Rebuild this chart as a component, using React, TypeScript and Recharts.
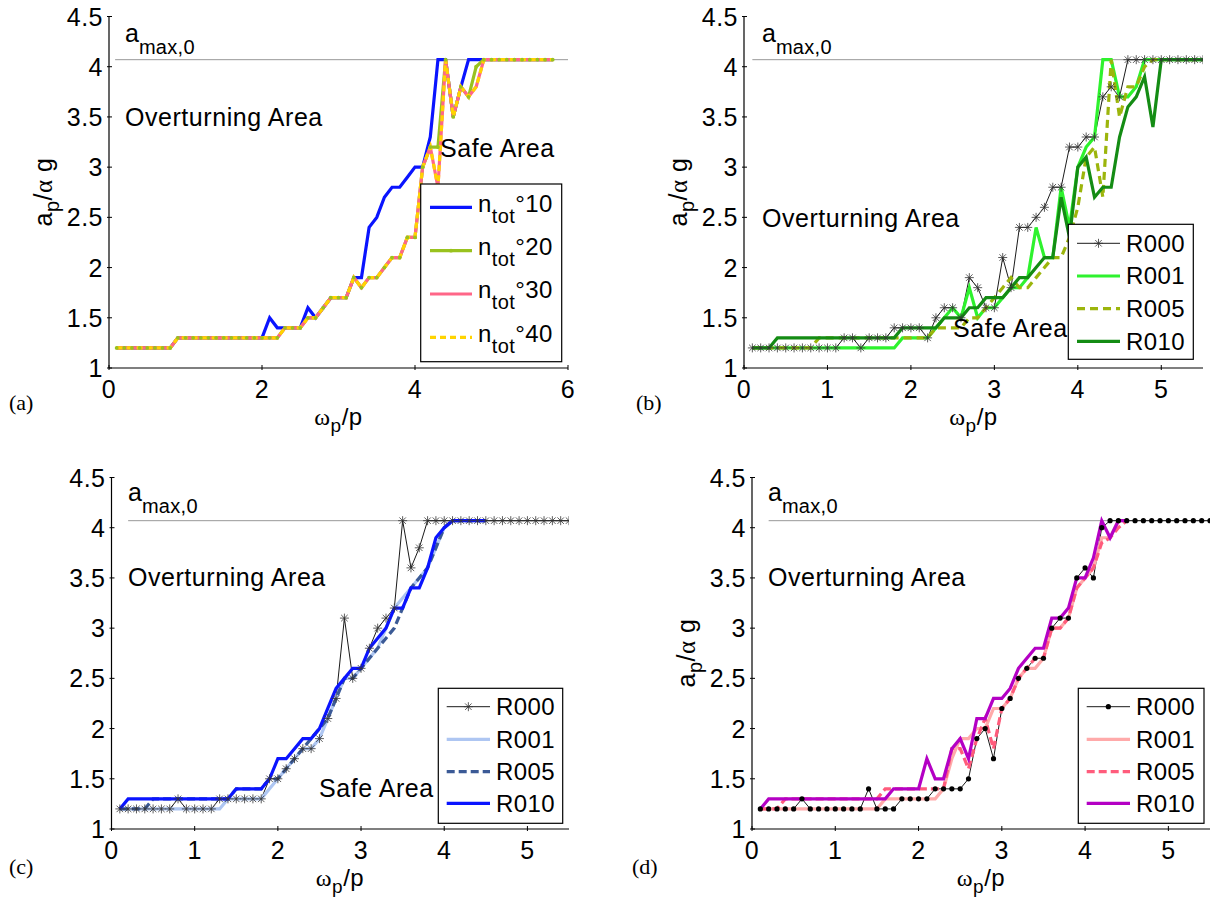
import React from 'react';
import { LineChart, Line, XAxis, YAxis, ReferenceLine } from 'recharts';

const FONT = '"Liberation Sans", Arial, Helvetica, sans-serif';
const SERIF = '"Liberation Serif", "Times New Roman", serif';

const A_MAX = 4.07;
const yTicks = [1, 1.5, 2, 2.5, 3, 3.5, 4, 4.5];
const xTicksA = [0, 2, 4, 6];
const xTicksB = [0, 1, 2, 3, 4, 5];

// (a) x = 0.1 .. 5.8
const aN10 = [
  1.2, 1.2, 1.2, 1.2, 1.2, 1.2, 1.2, 1.2,
  1.3, 1.3, 1.3, 1.3, 1.3, 1.3, 1.3, 1.3, 1.3, 1.3, 1.3, 1.3,
  1.5, 1.4, 1.4, 1.4, 1.4, 1.6, 1.5, 1.6, 1.7, 1.7,
  1.7, 1.9, 1.9, 2.4, 2.5, 2.7, 2.8, 2.8, 2.9, 3.0,
  3.0, 3.3, 4.07, 4.07, 3.5, 3.8,
  4.07, 4.07, 4.07, 4.07, 4.07, 4.07, 4.07, 4.07, 4.07, 4.07, 4.07, 4.07,
];
const aN20 = [
  1.2, 1.2, 1.2, 1.2, 1.2, 1.2, 1.2, 1.2,
  1.3, 1.3, 1.3, 1.3, 1.3, 1.3, 1.3, 1.3, 1.3, 1.3, 1.3, 1.3, 1.3, 1.3,
  1.4, 1.4, 1.4,
  1.5, 1.5, 1.6, 1.7, 1.7, 1.7,
  1.9, 1.8, 1.9, 1.9, 2.0, 2.1, 2.1, 2.3, 2.3,
  3.0, 3.2, 3.2, 4.07, 3.5, 3.8, 3.7, 4.0,
  4.07, 4.07, 4.07, 4.07, 4.07, 4.07, 4.07, 4.07, 4.07, 4.07,
];
const aN30 = [
  1.2, 1.2, 1.2, 1.2, 1.2, 1.2, 1.2, 1.2,
  1.3, 1.3, 1.3, 1.3, 1.3, 1.3, 1.3, 1.3, 1.3, 1.3, 1.3, 1.3, 1.3, 1.3,
  1.4, 1.4, 1.4,
  1.5, 1.5, 1.6, 1.7, 1.7, 1.7,
  1.9, 1.8, 1.9, 1.9, 2.0, 2.1, 2.1, 2.3, 2.3,
  3.0, 3.2, 2.8, 4.07, 3.5, 3.8, 3.7, 3.8,
  4.07, 4.07, 4.07, 4.07, 4.07, 4.07, 4.07, 4.07, 4.07, 4.07,
];
const aN40 = [
  1.2, 1.2, 1.2, 1.2, 1.2, 1.2, 1.2, 1.2,
  1.3, 1.3, 1.3, 1.3, 1.3, 1.3, 1.3, 1.3, 1.3, 1.3, 1.3, 1.3, 1.3, 1.3,
  1.4, 1.4, 1.4,
  1.5, 1.5, 1.6, 1.7, 1.7, 1.7,
  1.9, 1.8, 1.9, 1.9, 2.0, 2.1, 2.1, 2.3, 2.3,
  3.0, 3.2, 2.8, 4.07, 3.5, 3.8, 3.7, 3.8,
  4.07, 4.07, 4.07, 4.07, 4.07, 4.07, 4.07, 4.07, 4.07, 4.07,
];

// (b) x = 0.1 .. 5.5
const bR000 = [
  1.2, 1.2, 1.2, 1.2, 1.2, 1.2, 1.2, 1.2, 1.2, 1.2, 1.2,
  1.3, 1.3, 1.2, 1.3, 1.3, 1.3,
  1.4, 1.4, 1.4, 1.4, 1.3,
  1.5, 1.6, 1.6, 1.5, 1.9, 1.8, 1.6, 1.6,
  2.1, 1.8, 2.4, 2.4, 2.5, 2.6, 2.8, 2.8, 3.2, 3.2,
  3.3, 3.3, 3.7, 3.8, 3.7,
  4.07, 4.07, 4.07, 4.07, 4.07, 4.07, 4.07, 4.07, 4.07, 4.07,
];
const bR001 = [
  1.2, 1.2, 1.2, 1.2, 1.2, 1.2, 1.2, 1.2, 1.2, 1.2, 1.2, 1.2, 1.2, 1.2, 1.2, 1.2, 1.2, 1.2,
  1.3, 1.3, 1.3, 1.3,
  1.4, 1.5, 1.6, 1.5, 1.8, 1.5, 1.6, 1.6,
  1.7, 1.8, 1.8, 1.9, 2.4, 2.1, 2.1, 2.8, 2.4, 3.0,
  3.2, 3.3, 4.07, 4.07, 3.7, 3.7, 3.8,
  4.07, 4.07, 4.07, 4.07, 4.07, 4.07, 4.07, 4.07,
];
const bR005 = [
  1.2, 1.2, 1.2, 1.2, 1.2, 1.2, 1.2, 1.2,
  1.3, 1.3, 1.3, 1.3, 1.3, 1.3, 1.3, 1.3, 1.3, 1.3, 1.3, 1.3, 1.3, 1.3,
  1.4, 1.4, 1.4, 1.4, 1.5, 1.5, 1.6, 1.7,
  1.8, 1.9, 1.8, 1.8, 1.9, 2.0, 2.1, 2.1, 2.3, 2.6,
  3.1, 3.2, 2.7, 4.07, 3.5, 3.8, 3.8, 4.0,
  4.07, 4.07, 4.07, 4.07, 4.07, 4.07, 4.07,
];
const bR010 = [
  1.2, 1.2, 1.2,
  1.3, 1.3, 1.3, 1.3, 1.3, 1.3, 1.3, 1.3, 1.3, 1.3, 1.3, 1.3, 1.3, 1.3, 1.3,
  1.4, 1.4, 1.4, 1.4,
  1.4, 1.5, 1.5, 1.5, 1.6, 1.6, 1.7, 1.7,
  1.7, 1.8, 1.9, 1.9, 2.0, 2.1, 2.1, 2.7, 2.3, 3.0,
  3.1, 2.7, 2.8, 2.8, 3.3, 3.6, 3.7, 3.9, 3.4,
  4.07, 4.07, 4.07, 4.07, 4.07, 4.07,
];

// (c)
const cR000 = [
  1.2, 1.2, 1.2, 1.2, 1.2, 1.2, 1.2, 1.3, 1.2, 1.2, 1.2, 1.2,
  1.3, 1.3, 1.3, 1.3, 1.3, 1.3,
  1.5, 1.5, 1.6, 1.7, 1.8, 1.8, 1.9, 2.1, 2.3, 3.1, 2.5, 2.6,
  2.8, 3.0, 3.1, 3.2, 4.07, 3.6, 3.8,
  4.07, 4.07, 4.07, 4.07, 4.07, 4.07, 4.07, 4.07, 4.07, 4.07, 4.07, 4.07, 4.07, 4.07, 4.07, 4.07, 4.07, 4.07,
];
const cR001 = [
  1.2, 1.2, 1.2, 1.2, 1.2, 1.2, 1.2, 1.2, 1.2, 1.2, 1.2, 1.2, 1.2,
  1.3, 1.3, 1.3, 1.3, 1.3,
  1.4, 1.5, 1.6, 1.7, 1.8, 1.8, 1.9, 2.1, 2.3, 2.5, 2.5, 2.6,
  2.7, 2.8, 3.0, 3.2, 3.3, 3.4, 3.5, 3.6, 3.8, 4.0,
  4.07, 4.07, 4.07, 4.07, 4.07,
];
const cR005 = [
  1.2, 1.2, 1.2, 1.2,
  1.3, 1.3, 1.3, 1.3, 1.3, 1.3, 1.3, 1.3, 1.3, 1.3,
  1.4, 1.4, 1.4, 1.4,
  1.5, 1.5, 1.6, 1.7, 1.8, 1.9, 2.0, 2.1, 2.3, 2.5, 2.5, 2.6,
  2.7, 2.8, 2.9, 3.0, 3.2, 3.4, 3.5, 3.6, 3.8, 4.0,
  4.07, 4.07, 4.07, 4.07, 4.07,
];
const cR010 = [
  1.2, 1.3, 1.3, 1.3, 1.3, 1.3, 1.3, 1.3, 1.3, 1.3, 1.3, 1.3, 1.3, 1.3,
  1.4, 1.4, 1.4, 1.4,
  1.5, 1.7, 1.7, 1.8, 1.9, 1.9, 2.0, 2.2, 2.4, 2.5, 2.6, 2.6,
  2.8, 2.9, 3.0, 3.2, 3.2, 3.4, 3.4, 3.6, 3.9, 4.0,
  4.07, 4.07, 4.07, 4.07, 4.07,
];

// (d)
const dR000 = [
  1.2, 1.2, 1.2, 1.2, 1.2, 1.3, 1.2, 1.2, 1.2, 1.2, 1.2, 1.2, 1.2,
  1.4, 1.2, 1.2, 1.2,
  1.3, 1.3, 1.3, 1.3,
  1.4, 1.4, 1.4, 1.4, 1.5, 1.9, 2.0, 1.7, 2.2,
  2.3, 2.5, 2.6, 2.7, 2.7, 3.0, 3.1, 3.1, 3.5, 3.6,
  3.5, 4.0,
  4.07, 4.07, 4.07, 4.07, 4.07, 4.07, 4.07, 4.07, 4.07, 4.07, 4.07, 4.07, 4.07,
];
const dR001 = [
  1.2, 1.2, 1.2, 1.2, 1.2, 1.2, 1.2, 1.2, 1.2, 1.2, 1.2, 1.2, 1.2, 1.2, 1.2,
  1.3, 1.3, 1.3, 1.3, 1.3, 1.3, 1.3,
  1.4, 1.7, 1.9, 1.9, 2.0, 2.0, 2.2, 2.2,
  2.3, 2.5, 2.6, 2.6, 2.7, 3.0, 3.0, 3.1, 3.4, 3.5,
  3.6, 3.9, 3.9, 4.07, 4.07,
];
const dR005 = [
  1.2, 1.2, 1.2,
  1.3, 1.3, 1.3, 1.3, 1.3, 1.3, 1.3, 1.3, 1.3, 1.3, 1.3, 1.3,
  1.4, 1.4, 1.4, 1.4, 1.4, 1.4, 1.4, 1.4,
  1.8, 1.8, 1.6, 1.9, 2.1, 1.8, 2.2,
  2.3, 2.5, 2.6, 2.7, 2.7, 3.0, 3.0, 3.1, 3.4, 3.5,
  3.6, 3.85, 3.9, 4.0, 4.07,
];
const dR010 = [
  1.2, 1.3, 1.3, 1.3, 1.3, 1.3, 1.3, 1.3, 1.3, 1.3, 1.3, 1.3, 1.3, 1.3, 1.3, 1.3,
  1.4, 1.4, 1.4, 1.4,
  1.7, 1.5, 1.5, 1.8, 1.9, 1.7, 2.1, 2.1, 2.3, 2.3,
  2.4, 2.6, 2.7, 2.8, 2.8, 3.1, 3.1, 3.2, 3.5, 3.5,
  3.7, 4.07, 3.9, 4.07, 4.07,
];

// samples are taken every 0.1 starting at 0.1
const pts = (ys: number[]) => ys.map((y, i) => ({ x: (i + 1) / 10, y }));

const AXIS = { stroke: '#000', strokeWidth: 1.2 };

const BottomTick = (p: any) => (
  <g>
    <line x1={p.x} y1={p.y} x2={p.x} y2={p.y - 5} stroke="#000" strokeWidth={1} />
    <text x={p.x} y={p.y + 27.5} textAnchor="middle" fontSize={25} letterSpacing={0.5} fontFamily={FONT} fill="#000">
      {p.payload.value}
    </text>
  </g>
);
const TopTick = (p: any) => <line x1={p.x} y1={p.y} x2={p.x} y2={p.y + 5} stroke="#000" strokeWidth={1} />;
const LeftTick = (p: any) => (
  <g>
    <line x1={p.x} y1={p.y} x2={p.x + 5} y2={p.y} stroke="#000" strokeWidth={1} />
    <text x={p.x - 4} y={p.y + 9} textAnchor="end" fontSize={25} letterSpacing={0.5} fontFamily={FONT} fill="#000">
      {p.payload.value}
    </text>
  </g>
);
const RightTick = (p: any) => <line x1={p.x} y1={p.y} x2={p.x - 5} y2={p.y} stroke="#000" strokeWidth={1} />;

const StarDot = ({ cx, cy }: any) => {
  if (cx == null || cy == null) return null;
  const r = 4.5;
  const d = r * 0.72;
  return (
    <g stroke="#333" strokeWidth={0.8}>
      <line x1={cx - r} y1={cy} x2={cx + r} y2={cy} />
      <line x1={cx} y1={cy - r} x2={cx} y2={cy + r} />
      <line x1={cx - d} y1={cy - d} x2={cx + d} y2={cy + d} />
      <line x1={cx - d} y1={cy + d} x2={cx + d} y2={cy - d} />
    </g>
  );
};
const starDot = (p: any) => <StarDot key={`s-${p.index}`} cx={p.cx} cy={p.cy} />;

type Series = { name: string; ys: number[]; color: string; width: number; dash?: string; dot?: any };

type PanelProps = {
  box: { x: number; y: number; w: number; h: number };
  plot: { l: number; t: number; r: number; b: number };
  xMax: number;
  xTicks: number[];
  refFrom: number;
  series: Series[];
};

function Panel({ box, plot, xMax, xTicks, refFrom, series }: PanelProps) {
  const l = plot.l - box.x;
  const t = plot.t - box.y;
  const r = plot.r - box.x;
  const b = plot.b - box.y;
  return (
    <div style={{ position: 'absolute', left: box.x, top: box.y }}>
      <LineChart width={box.w} height={box.h} margin={{ top: t, right: box.w - r, bottom: 0, left: 0 }}>
        <XAxis xAxisId={0} dataKey="x" type="number" domain={[0, xMax]} ticks={xTicks} height={box.h - b}
          tickSize={0} tickLine={false} interval={0} axisLine={AXIS} tick={<BottomTick />} allowDataOverflow />
        <XAxis xAxisId="top" orientation="top" dataKey="x" type="number" domain={[0, xMax]} ticks={xTicks} height={0}
          tickSize={0} tickLine={false} interval={0} axisLine={AXIS} tick={<TopTick />} allowDataOverflow />
        <YAxis yAxisId={0} type="number" domain={[1, 4.5]} ticks={yTicks} width={l}
          tickSize={0} tickLine={false} interval={0} axisLine={AXIS} tick={<LeftTick />} allowDataOverflow />
        <YAxis yAxisId="right" orientation="right" type="number" domain={[1, 4.5]} ticks={yTicks} width={0}
          tickSize={0} tickLine={false} interval={0} axisLine={AXIS} tick={<RightTick />} allowDataOverflow />
        <ReferenceLine xAxisId={0} yAxisId={0}
          segment={[{ x: refFrom, y: A_MAX }, { x: xMax, y: A_MAX }]}
          stroke="#8c8c8c" strokeWidth={0.9} />
        {series.map((s) => (
          <Line key={s.name} xAxisId={0} yAxisId={0} type="linear" data={pts(s.ys)} dataKey="y" name={s.name}
            stroke={s.color} strokeWidth={s.width} strokeDasharray={s.dash}
            dot={s.dot ?? false} activeDot={false} isAnimationActive={false} />
        ))}
      </LineChart>
    </div>
  );
}

const seriesA: Series[] = [
  { name: 'n10', ys: aN10, color: '#0a14ff', width: 3.2 },
  { name: 'n20', ys: aN20, color: '#99c21e', width: 3.2, dot: { r: 1.9, fill: '#99c21e', stroke: '#99c21e', strokeWidth: 0 } },
  { name: 'n30', ys: aN30, color: '#ff6688', width: 3.2 },
  { name: 'n40', ys: aN40, color: '#ffd400', width: 3.2, dash: '6 4' },
];
const seriesB: Series[] = [
  { name: 'R000', ys: bR000, color: '#000', width: 0.9, dot: starDot },
  { name: 'R001', ys: bR001, color: '#2ef22e', width: 3.2 },
  { name: 'R005', ys: bR005, color: '#9cb50c', width: 3.2, dash: '8 5' },
  { name: 'R010', ys: bR010, color: '#148c14', width: 3.2 },
];
const seriesC: Series[] = [
  { name: 'R000', ys: cR000, color: '#000', width: 0.9, dot: starDot },
  { name: 'R001', ys: cR001, color: '#aec6f2', width: 3.2 },
  { name: 'R005', ys: cR005, color: '#3b5a96', width: 3.2, dash: '8 4' },
  { name: 'R010', ys: cR010, color: '#0a14ff', width: 3.2 },
];
const seriesD: Series[] = [
  { name: 'R000', ys: dR000, color: '#000', width: 0.9, dot: { r: 2.6, fill: '#000', stroke: '#000', strokeWidth: 0 } },
  { name: 'R001', ys: dR001, color: '#ffaaaa', width: 3.2 },
  { name: 'R005', ys: dR005, color: '#ff5c7c', width: 3.2, dash: '8 4' },
  { name: 'R010', ys: dR010, color: '#b400c4', width: 3.2 },
];

type LegendRow = { label: React.ReactNode; color: string; width: number; dash?: string; marker?: 'star' | 'dot' | 'smalldot' };

function LegendSvg({ x, y, w, h, lx1, lx2, tx, rowsY, base, rows }: {
  x: number; y: number; w: number; h: number; lx1: number; lx2: number; tx: number; rowsY: number[]; base: number; rows: LegendRow[];
}) {
  return (
    <g>
      <rect x={x} y={y} width={w} height={h} fill="#fff" stroke="#000" strokeWidth={1.2} />
      {rows.map((r, i) => {
        const ly = rowsY[i];
        const mx = (lx1 + lx2) / 2;
        return (
          <g key={i}>
            <line x1={lx1} y1={ly} x2={lx2} y2={ly} stroke={r.color} strokeWidth={r.width} strokeDasharray={r.dash} />
            {r.marker === 'star' && <StarDot cx={mx} cy={ly} />}
            {r.marker === 'dot' && <circle cx={mx} cy={ly} r={2.6} fill="#000" />}
            {r.marker === 'smalldot' && <circle cx={mx} cy={ly} r={1.9} fill={r.color} />}
            <text x={tx} y={ly + base} fontSize={24} letterSpacing={0.4} fontFamily={FONT} fill="#000">{r.label}</text>
          </g>
        );
      })}
    </g>
  );
}

const nLabel = (v: string) => (
  <>
    n<tspan dy={11} fontSize={20}>tot</tspan><tspan dy={-11}>°{v}</tspan>
  </>
);

const AMax = ({ x, y }: { x: number; y: number }) => (
  <text x={x} y={y} fontSize={25} fontFamily={FONT} fill="#000">
    a<tspan dy={12} fontSize={20} letterSpacing={0.3}>max,0</tspan>
  </text>
);
const Note = ({ x, y, children }: { x: number; y: number; children: React.ReactNode }) => (
  <text x={x} y={y} fontSize={25} letterSpacing={0.55} fontFamily={FONT} fill="#000">{children}</text>
);
const YLabel = ({ x, y }: { x: number; y: number }) => (
  <text transform={`translate(${x} ${y}) rotate(-90)`} textAnchor="middle" fontSize={25} letterSpacing={0.5} fontFamily={FONT} fill="#000">
    a<tspan dy={7} fontSize={20}>p</tspan><tspan dy={-7}>/</tspan><tspan fontFamily={SERIF}>α</tspan> g
  </text>
);
const XLabel = ({ x, y }: { x: number; y: number }) => (
  <text x={x} y={y} textAnchor="middle" fontSize={24} letterSpacing={0.5} fontFamily={FONT} fill="#000">
    <tspan fontFamily={SERIF}>ω</tspan><tspan dy={7} fontSize={19}>p</tspan><tspan dy={-7}>/p</tspan>
  </text>
);
const Tag = ({ x, y, t }: { x: number; y: number; t: string }) => (
  <text x={x} y={y} fontSize={22} fontFamily={SERIF} fill="#000">{t}</text>
);

const rowsR = (c1: string, c5: string, c10: string, m: 'star' | 'dot', dash: string): LegendRow[] => [
  { label: 'R000', color: '#000', width: 0.9, marker: m },
  { label: 'R001', color: c1, width: 3.2 },
  { label: 'R005', color: c5, width: 3.2, dash },
  { label: 'R010', color: c10, width: 3.2 },
];

export default function App() {
  return (
    <div style={{ position: 'absolute', left: 0, top: 0, width: 1211, height: 900, background: '#fff', overflow: 'hidden' }}>
      <Panel box={{ x: 0, y: 0, w: 600, h: 440 }} plot={{ l: 109, t: 16.5, r: 568, b: 368 }}
        xMax={6} xTicks={xTicksA} refFrom={0.08} series={seriesA} />
      <Panel box={{ x: 620, y: 0, w: 591, h: 440 }} plot={{ l: 744, t: 16.5, r: 1203, b: 368 }}
        xMax={5.5} xTicks={xTicksB} refFrom={0.1} series={seriesB} />
      <Panel box={{ x: 0, y: 440, w: 600, h: 460 }} plot={{ l: 111.5, t: 477.5, r: 569, b: 829 }}
        xMax={5.5} xTicks={xTicksB} refFrom={0.2} series={seriesC} />
      <Panel box={{ x: 620, y: 440, w: 591, h: 460 }} plot={{ l: 752, t: 477.5, r: 1210, b: 829 }}
        xMax={5.5} xTicks={xTicksB} refFrom={0.2} series={seriesD} />

      <svg width={1211} height={900} style={{ position: 'absolute', left: 0, top: 0, pointerEvents: 'none' }}>
        {/* (a) */}
        <AMax x={125} y={41.7} />
        <Note x={125} y={126}>Overturning Area</Note>
        <Note x={440} y={157}>Safe Area</Note>
        <YLabel x={52} y={192} />
        <XLabel x={338.5} y={425} />
        <Tag x={9} y={410} t="(a)" />
        <LegendSvg x={420.7} y={184} w={141} h={177.7} lx1={430} lx2={472} tx={478}
          rowsY={[207.3, 250.7, 294, 337.3]} base={4.4}
          rows={[
            { label: nLabel('10'), color: '#0a14ff', width: 3.2 },
            { label: nLabel('20'), color: '#99c21e', width: 3.2, marker: 'smalldot' },
            { label: nLabel('30'), color: '#ff6688', width: 3.2 },
            { label: nLabel('40'), color: '#ffd400', width: 3.2, dash: '6 4' },
          ]} />

        {/* (b) */}
        <AMax x={762} y={41.7} />
        <Note x={762} y={227}>Overturning Area</Note>
        <Note x={953} y={337}>Safe Area</Note>
        <YLabel x={687} y={192} />
        <XLabel x={973.5} y={425} />
        <Tag x={636} y={410} t="(b)" />
        <LegendSvg x={1068.3} y={224.3} w={125} h={135} lx1={1077} lx2={1120} tx={1126}
          rowsY={[243.3, 276, 308.7, 341.3]} base={8.4}
          rows={rowsR('#2ef22e', '#9cb50c', '#148c14', 'star', '8 5')} />

        {/* (c) */}
        <AMax x={128} y={501} />
        <Note x={128} y={586}>Overturning Area</Note>
        <Note x={319} y={797}>Safe Area</Note>
        <XLabel x={340} y={886} />
        <Tag x={9} y={874} t="(c)" />
        <LegendSvg x={438.3} y={688.3} w={124.4} h={135} lx1={446.7} lx2={490} tx={496}
          rowsY={[706.7, 739.3, 771.7, 803.3]} base={8.4}
          rows={rowsR('#aec6f2', '#3b5a96', '#0a14ff', 'star', '8 4')} />

        {/* (d) */}
        <AMax x={768} y={501} />
        <Note x={768} y={586}>Overturning Area</Note>
        <YLabel x={695} y={653} />
        <XLabel x={981} y={886} />
        <Tag x={632} y={874} t="(d)" />
        <LegendSvg x={1078.3} y={688.3} w={125.7} h={135} lx1={1086.7} lx2={1130} tx={1136}
          rowsY={[706.7, 739.3, 771.7, 803.3]} base={8.4}
          rows={rowsR('#ffaaaa', '#ff5c7c', '#b400c4', 'dot', '8 4')} />
      </svg>
    </div>
  );
}
